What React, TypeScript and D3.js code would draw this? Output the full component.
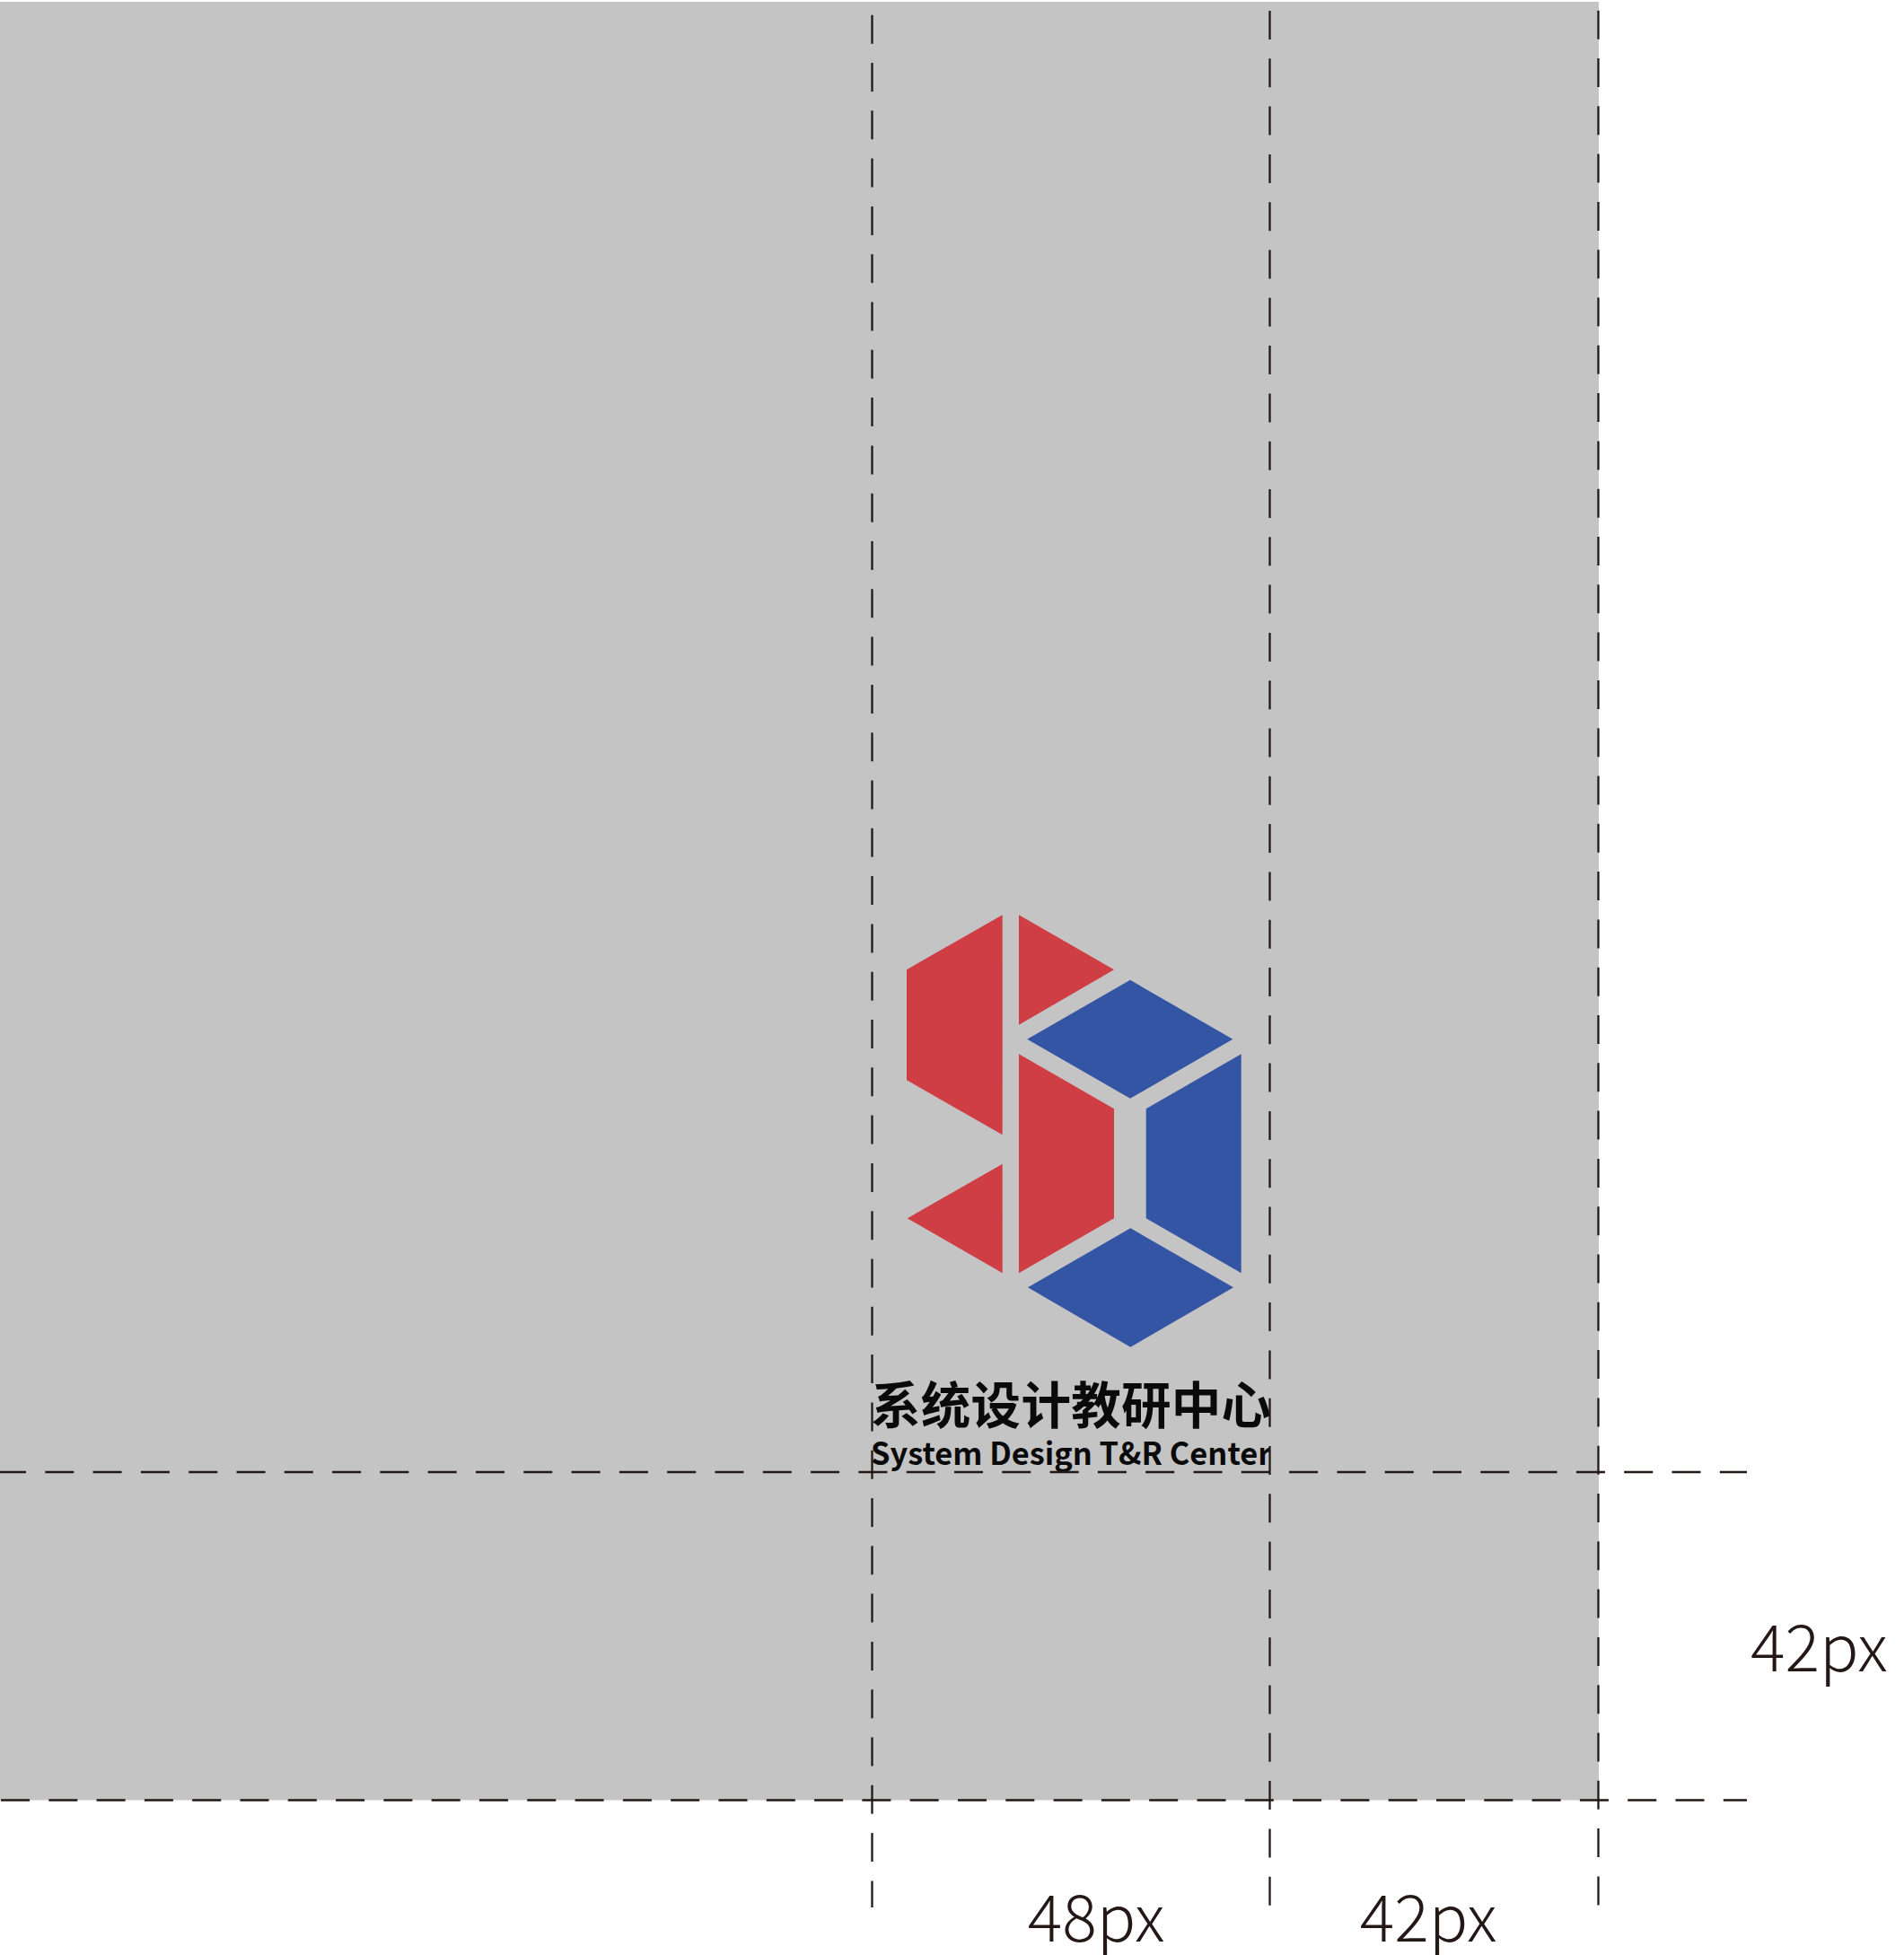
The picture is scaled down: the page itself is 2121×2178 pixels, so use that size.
import React from "react";
import * as d3 from "d3";

const W = 2121;
const H = 2178;

// Logo pieces (logo-local units: px offset from logo origin)
const pieceNames = ["redLeft", "redTopTri", "blueTop", "redMid", "blueRight", "redBotTri", "blueBottom"];
const pieceColors = ["red", "red", "blue", "red", "blue", "red", "blue"];
const piecePoints: [number, number][][] = [
  [[0, 61], [106.7, 0], [106.7, 245], [0, 184]],
  [[125, 0], [231, 61], [125, 122.5]],
  [[134.3, 138.5], [249, 72.5], [363.3, 138.5], [249, 204.5]],
  [[125, 155], [231, 216], [231, 338], [125, 399]],
  [[266.7, 216], [372.7, 155], [372.7, 399], [266.7, 338]],
  [[0.7, 338], [106.7, 277.5], [106.7, 399]],
  [[135, 415], [249.3, 349], [364, 415], [249.3, 481.5]],
];

const titleCN = "系统设计教研中心";
const titleEN = "System Design T&R Center";
const dimLabels = ["48px", "42px", "42px"];

const palette: Record<string, string> = { red: "#CF3D45", blue: "#3454A4" };

export default function App() {
  const sx = d3.scaleLinear().domain([0, 1]).range([1010, 1011]);
  const sy = d3.scaleLinear().domain([0, 1]).range([1019.3, 1020.3]);
  const line = d3
    .line<[number, number]>()
    .x((d) => sx(d[0]))
    .y((d) => sy(d[1]))
    .curve(d3.curveLinearClosed);

  const ink = "#231815";
  const dash = "32 21.3";
  const vGuides = [
    { x: 971.5, y0: 16.7, y1: 2125 },
    { x: 1414.5, y0: 12, y1: 2125 },
    { x: 1780.5, y0: 11.7, y1: 2125 },
  ];
  const hGuides = [
    { y: 1640, x0: -3, x1: 1946 },
    { y: 2005.5, x0: 1, x1: 1946 },
  ];

  return (
    <svg
      width={W}
      height={H}
      viewBox={`0 0 ${W} ${H}`}
      style={{ position: "absolute", left: 0, top: 0, background: "#fff" }}
    >
      <defs>
        <clipPath id="textClip">
          <rect x={971.5} y={1500} width={443} height={200} />
        </clipPath>
      </defs>
      <rect x={0} y={2} width={1781} height={2003.5} fill="#C4C4C4" />
      {piecePoints.map((pts, i) => (
        <path key={pieceNames[i]} d={line(pts) || ""} fill={palette[pieceColors[i]]} />
      ))}
      <g clipPath="url(#textClip)" fill="#0a0a0a" fontFamily="'Noto Sans CJK SC', 'Noto Sans', sans-serif" fontWeight={700}>
        <text x={970} y={1586} fontSize={55.5} letterSpacing={0.3}>
          {titleCN}
        </text>
        <text x={970} y={1632} fontSize={34.4}>
          {titleEN}
        </text>
      </g>
      {hGuides.map((g, i) => (
        <line key={"h" + i} x1={g.x0} x2={g.x1} y1={g.y} y2={g.y} stroke={ink} strokeWidth={2.3} strokeDasharray={dash} />
      ))}
      {vGuides.map((g, i) => (
        <line key={"v" + i} x1={g.x} x2={g.x} y1={g.y0} y2={g.y1} stroke={ink} strokeWidth={2.3} strokeDasharray={dash} />
      ))}
      <g fill={ink} fontFamily="'Noto Sans CJK SC', 'Noto Sans', sans-serif" fontWeight={300} fontSize={72}>
        <text x={1221} y={2163} textAnchor="middle">{dimLabels[0]}</text>
        <text x={1591} y={2163} textAnchor="middle">{dimLabels[1]}</text>
        <text x={1950} y={1862}>{dimLabels[2]}</text>
      </g>
    </svg>
  );
}
